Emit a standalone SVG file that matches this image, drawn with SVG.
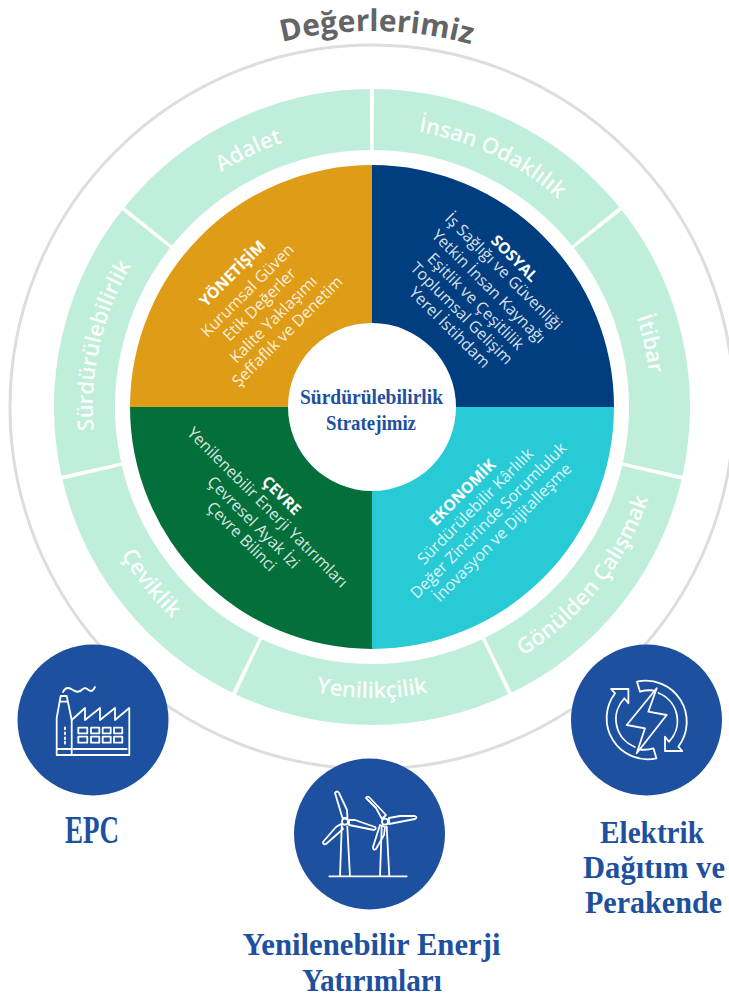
<svg xmlns="http://www.w3.org/2000/svg" width="729" height="998" viewBox="0 0 729 998">
<style>
text{font-family:"Open Sans","Noto Sans",sans-serif}
.seg{fill:none;stroke:#BFEEDB;stroke-width:61}
.val{fill:#fff;font-size:22px;font-weight:600;text-anchor:middle;opacity:.94}
.t{fill:#fff;font-size:15.500px;font-weight:700;text-anchor:middle;dominant-baseline:central}
.l{fill:#fff;fill-opacity:.86;font-size:16px;text-anchor:middle;dominant-baseline:central}
.h{fill:#1E50A0;font-family:"Liberation Serif",serif;font-weight:700;text-anchor:middle}
.i{fill:none;stroke:#fff;stroke-width:1.800;stroke-linejoin:round;stroke-linecap:round}
.b{fill:#1E50A0}
</style>
<defs>
<path id="cw" d="M372,686 A279,279 0 1 1 372,128 A279,279 0 1 1 372,686"/>
<path id="ccw" d="M372,116 A291,291 0 1 0 372,698 A291,291 0 1 0 372,116"/>
<path id="top" d="M372,783 A376,376 0 1 1 372,31 A376,376 0 1 1 372,783"/>
</defs>
<rect width="729" height="998" fill="#fff"/>
<g id="values-title">
<circle cx="372" cy="407" r="362" fill="none" stroke="#DDDDDD" stroke-width="3"/>
<text font-size="30" font-weight="700" fill="#636466" text-anchor="middle"><textPath href="#top" startOffset="50.2%">Değerlerimiz</textPath></text>
</g>
<g id="value-adalet"><circle class="seg" cx="372" cy="407" r="287.5" pathLength="360" stroke-dasharray="50.7 309.3" transform="rotate(218.9 372 407)"/><text class="val"><textPath href="#cw" startOffset="42.86%">Adalet</textPath></text></g>
<g id="value-insan"><circle class="seg" cx="372" cy="407" r="287.5" pathLength="360" stroke-dasharray="50.7 309.3" transform="rotate(-89.65 372 407)"/><text class="val"><textPath href="#cw" startOffset="57.14%">İnsan Odaklılık</textPath></text></g>
<g id="value-itibar"><circle class="seg" cx="372" cy="407" r="287.5" pathLength="360" stroke-dasharray="50.7 309.3" transform="rotate(-38.22 372 407)"/><text class="val"><textPath href="#cw" startOffset="71.43%">İtibar</textPath></text></g>
<g id="value-gonulden"><circle class="seg" cx="372" cy="407" r="287.5" pathLength="360" stroke-dasharray="50.7 309.3" transform="rotate(13.21 372 407)"/><text class="val"><textPath href="#ccw" startOffset="64.29%">Gönülden Çalışmak</textPath></text></g>
<g id="value-yenilikcilik"><circle class="seg" cx="372" cy="407" r="287.5" pathLength="360" stroke-dasharray="50.7 309.3" transform="rotate(64.64 372 407)"/><text class="val"><textPath href="#ccw" startOffset="50%">Yenilikçilik</textPath></text></g>
<g id="value-ceviklik"><circle class="seg" cx="372" cy="407" r="287.5" pathLength="360" stroke-dasharray="50.7 309.3" transform="rotate(116.07 372 407)"/><text class="val"><textPath href="#ccw" startOffset="35.71%">Çeviklik</textPath></text></g>
<g id="value-surdurulebilirlik"><circle class="seg" cx="372" cy="407" r="287.5" pathLength="360" stroke-dasharray="50.7 309.3" transform="rotate(167.5 372 407)"/><text class="val"><textPath href="#cw" startOffset="28.57%">Sürdürülebilirlik</textPath></text></g>

<g id="yonetisim">
<path fill="#DF9C17" d="M372,165 A242,242 0 0 0 130,407 L288,407 A84,84 0 0 1 372,323 Z"/>
<text class="t" x="232" y="273" transform="rotate(-45 232 273)">YÖNETİŞİM</text>
<text class="l" x="247" y="290" transform="rotate(-45 247 290)">Kurumsal Güven</text>
<text class="l" x="259" y="304" transform="rotate(-45 259 304)">Etik Değerler</text>
<text class="l" x="273" y="319" transform="rotate(-45 273 319)">Kalite Yaklaşımı</text>
<text class="l" x="287" y="331" transform="rotate(-45 287 331)">Şeffaflık ve Denetim</text>
</g>
<g id="sosyal">
<path fill="#003E80" d="M372,165 A242,242 0 0 1 614,407 L456,407 A84,84 0 0 0 372,323 Z"/>
<text class="t" x="515" y="258" transform="rotate(45 515 258)">SOSYAL</text>
<text class="l" x="504" y="271" transform="rotate(45 504 271)">İş Sağlığı ve Güvenliği</text>
<text class="l" x="489" y="286" transform="rotate(45 489 286)">Yetkin İnsan Kaynağı</text>
<text class="l" x="476" y="301" transform="rotate(45 476 301)">Eşitlik ve Çeşitlilik</text>
<text class="l" x="462" y="313" transform="rotate(45 462 313)">Toplumsal Gelişim</text>
<text class="l" x="450" y="327" transform="rotate(45 450 327)">Yerel İstihdam</text>
</g>
<g id="cevre">
<path fill="#03703C" d="M130,407 A242,242 0 0 0 372,649 L372,491 A84,84 0 0 1 288,407 Z"/>
<text class="t" x="282" y="495" transform="rotate(45 282 495)">ÇEVRE</text>
<text class="l" x="268" y="507" transform="rotate(45 268 507)">Yenilenebilir Enerji Yatırımları</text>
<text class="l" x="254" y="522" transform="rotate(45 254 522)">Çevresel Ayak İzi</text>
<text class="l" x="242" y="536" transform="rotate(45 242 536)">Çevre Bilinci</text>
</g>
<g id="ekonomik">
<path fill="#28CAD5" d="M372,649 A242,242 0 0 0 614,407 L456,407 A84,84 0 0 1 372,491 Z"/>
<text class="t" x="462" y="492" transform="rotate(-45 462 492)">EKONOMİK</text>
<text class="l" x="475" y="506" transform="rotate(-45 475 506)">Sürdürülebilir Kârlılık</text>
<text class="l" x="488" y="520" transform="rotate(-45 488 520)">Değer Zincirinde Sorumluluk</text>
<text class="l" x="502" y="532" transform="rotate(-45 502 532)">İnovasyon ve Dijitalleşme</text>
</g>
<g id="strategy">
<text class="h" x="371.500" y="404" font-size="21" textLength="143" lengthAdjust="spacingAndGlyphs">Sürdürülebilirlik</text>
<text class="h" x="371" y="430" font-size="21" textLength="90" lengthAdjust="spacingAndGlyphs">Stratejimiz</text>
</g>

<g id="epc">
<circle class="b" cx="93" cy="720" r="75.500"/>
<path class="i" d="M63,692 C66,686 70,688 73,690 C77,693 80,692 83,689 C86,686 88,691 91,691 C93,691 94,689 95,687"/>
<path class="i" d="M60.700,696 L66.700,696 L71.700,720 L71.700,755 L56.700,755 L56.700,718 Z M59.500,701.700 L67.500,701.700 M56.700,749 L71.700,749"/>
<path class="i" d="M71.700,720 L85,708 L85,720 L100,708 L100,720 L115,708 L115,720 L129.300,708 L129.300,755 L71.700,755"/>
<path class="i" d="M78.300,727.700h9v5.600h-9z M91,727.700h8.300v5.600H91z M102.700,727.700h8v5.600h-8z M114,727.700h8.300v5.600H114z M78.300,736.700h9v6h-9z M91,736.700h8.300v6H91z M102.700,736.700h8v6h-8z M114,736.700h8.300v6H114z"/>
<path class="i" stroke-width="2.200" d="M73.300,749 L126.700,749"/>
<path class="i" stroke-width="2" stroke-linecap="butt" d="M65,727.300v2 M65,732.300v2 M65,737.300v2 M65,741.700v2"/>
<text class="h" x="92" y="843" font-size="40" textLength="54" lengthAdjust="spacingAndGlyphs">EPC</text>
</g>
<g id="yenilenebilir">
<circle class="b" cx="369.500" cy="834" r="75.500"/>
<path class="i" d="M329.300,876.300 L406.700,876.300 M341.700,826.700 L340,876.300 M347.300,826.700 L350,876.300 M381.700,826.700 L380,876.300 M386.700,826.700 L389.300,876.300"/>
<circle class="i" cx="345" cy="821.700" r="3"/><circle class="i" cx="385" cy="821.700" r="3"/>
<path class="i" d="M342.500,818 L335,793 Q337,790 339,793 L347,810 L347.500,818 Z M349,820 L355,820 L375,827 Q377,829 374,830 L349,825 Z M341,824 L336,827 L323,842 Q323,845 326,844 L343,829 Z"/>
<path class="i" d="M382,819 L376,808 L366,798 Q367,796 369,797 L386,815 Z M389,818 L400,816 L415,816 Q418,817 415,819 L389,824 Z M380,825 L373,847 Q373,851 376,849 L384,835 L385,827 Z"/>
<text class="h" x="371.500" y="955" font-size="31" textLength="258" lengthAdjust="spacingAndGlyphs">Yenilenebilir Enerji</text>
<text class="h" x="372" y="991" font-size="31" textLength="140" lengthAdjust="spacingAndGlyphs">Yatırımları</text>
</g>
<g id="elektrik">
<circle class="b" cx="646.500" cy="720" r="75.500"/>
<path class="i" d="M656.700,688.300 L648.300,711.700 L666.700,715 L636.700,753.300 L645,728.300 L626.700,725 Z"/>
<g id="cycle-arrow">
<path class="i" d="M637,681.700 A41,41 0 0 1 678.300,746.700 L682.300,751 L665,751 L665,736.700 L669,741.700 A30,30 0 0 0 658.500,693 M653,690.500 A30,30 0 0 0 640,691.700 L637,681.700"/>
</g>
<use href="#cycle-arrow" transform="rotate(180 646.700 720)"/>
<text class="h" x="652" y="843" font-size="31" textLength="104" lengthAdjust="spacingAndGlyphs">Elektrik</text>
<text class="h" x="654" y="878" font-size="31" textLength="142" lengthAdjust="spacingAndGlyphs">Dağıtım ve</text>
<text class="h" x="653.500" y="913" font-size="31" textLength="137" lengthAdjust="spacingAndGlyphs">Perakende</text>
</g>
</svg>
